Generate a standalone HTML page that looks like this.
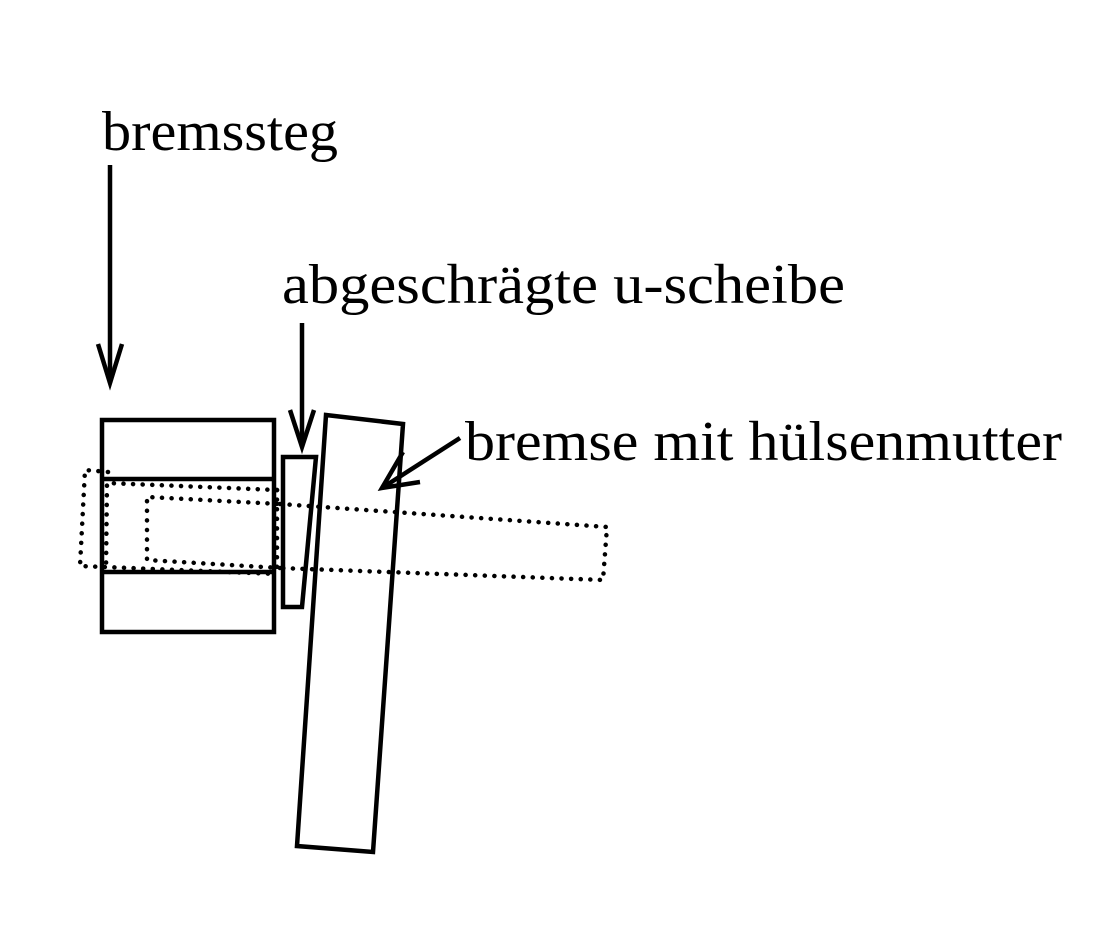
<!DOCTYPE html>
<html><head><meta charset="utf-8"><style>html,body{margin:0;padding:0;background:#fff}svg{display:block}</style></head>
<body>
<svg width="1118" height="932" viewBox="0 0 1118 932" xmlns="http://www.w3.org/2000/svg">
<rect width="1118" height="932" fill="#fff"/>
<g font-family="Liberation Serif, serif" font-size="56" fill="#000">
<text x="102" y="150" textLength="236" lengthAdjust="spacingAndGlyphs">bremssteg</text>
<text x="282" y="303" textLength="563" lengthAdjust="spacingAndGlyphs">abgeschrägte u-scheibe</text>
<text x="465" y="460" textLength="597" lengthAdjust="spacingAndGlyphs">bremse mit hülsenmutter</text>
</g>
<g stroke="#000" stroke-width="4.5" fill="none" stroke-linejoin="miter">
<line x1="110" y1="165" x2="110" y2="383"/>
<polyline points="98,344 110,383 122,344"/>
<line x1="302" y1="323" x2="302" y2="447"/>
<polyline points="290,410 302,447 314,410"/>
<line x1="460" y1="438" x2="382" y2="488"/>
<polyline points="403,452 382,488 420,482"/>
<rect x="102" y="420" width="172" height="212"/>
<line x1="102" y1="479" x2="274" y2="479"/>
<line x1="102" y1="572" x2="274" y2="572"/>
<polygon points="283,457 316,457 302,607 283,607"/>
<polygon points="326,415 403,424 373,852 297,846"/>
</g>
<g stroke="#000" stroke-width="4.5" fill="none" stroke-dasharray="0.1 9.5" stroke-linecap="round">
<polyline points="108,472 85,470 80,566 277,574"/>
<polyline points="277,490 107,483 106,570"/>
<polyline points="280,568 147,560 147,497 280,504"/>
<polyline points="280,504 607,527 603,580 280,568"/>
<line x1="277" y1="490" x2="277" y2="574"/>
</g>
</svg>
</body></html>
